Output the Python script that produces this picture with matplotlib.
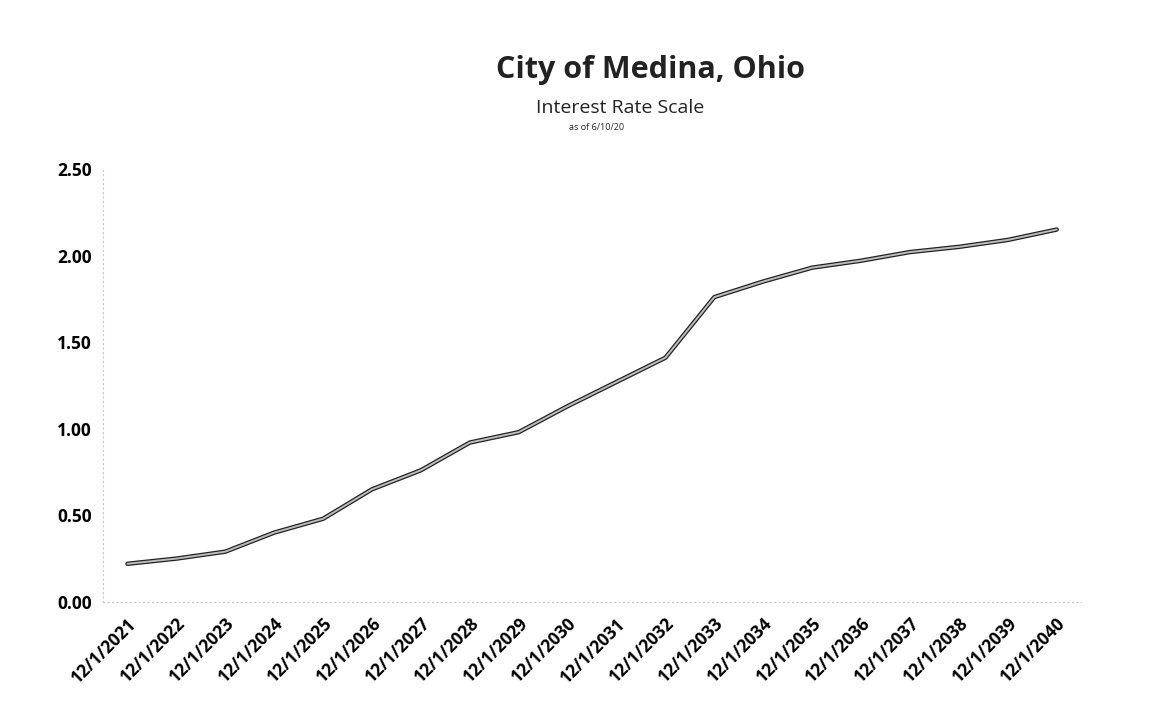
import matplotlib.pyplot as plt

# Fechas y tasas
fechas = ['12/1/2021', '12/1/2022', '12/1/2023', '12/1/2024', '12/1/2025',
          '12/1/2026', '12/1/2027', '12/1/2028', '12/1/2029', '12/1/2030',
          '12/1/2031', '12/1/2032', '12/1/2033', '12/1/2034', '12/1/2035',
          '12/1/2036', '12/1/2037', '12/1/2038', '12/1/2039', '12/1/2040']
tasas = [0.22, 0.25, 0.29, 0.40, 0.48, 0.65, 0.76, 0.92, 0.98, 1.13,
         1.27, 1.41, 1.76, 1.85, 1.93, 1.97, 2.02, 2.05, 2.09, 2.15]
marcas_y = [0.0, 0.5, 1.0, 1.5, 2.0, 2.5]

plt.rcParams['font.family'] = ['Open Sans', 'DejaVu Sans']

fig = plt.figure(figsize=(11.65, 7.14), dpi=100)
ax = fig.add_axes([0.0884, 0.157, 0.8396, 0.6064])

x = range(len(fechas))
ax.plot(x, tasas, color='#222222', linewidth=3.2, solid_capstyle='round')
ax.plot(x, tasas, color='#bdbdbd', linewidth=1.4, solid_capstyle='round')

ax.set_xlim(-0.5, len(fechas) - 0.5)
ax.set_ylim(0, 2.5)
ax.set_yticks(marcas_y)
ax.set_yticklabels([f'{v:.2f}' for v in marcas_y], fontsize=12.5, fontweight='bold')
ax.set_xticks(list(x))
ax.set_xticklabels(fechas, rotation=45, ha='right', rotation_mode='anchor',
                   fontsize=12.5, fontweight='bold')
ax.tick_params(axis='y', length=0, pad=8)
ax.tick_params(axis='x', length=0, pad=9)

for lado in ['top', 'right']:
    ax.spines[lado].set_visible(False)
for lado in ['left', 'bottom']:
    ax.spines[lado].set_color('#c8c8c8')
    ax.spines[lado].set_linestyle((0, (1, 3)))
    ax.spines[lado].set_linewidth(0.8)

fig.text(0.558, 0.902, 'City of Medina, Ohio', ha='center', va='center',
         fontsize=22, fontweight='bold', color='#222222')
fig.text(0.532, 0.849, 'Interest Rate Scale', ha='center', va='center',
         fontsize=14, color='#222222')
fig.text(0.512, 0.822, 'as of 6/10/20', ha='center', va='center',
         fontsize=6.5, color='#222222')

fig.savefig('out.png', dpi=100, facecolor='white')
